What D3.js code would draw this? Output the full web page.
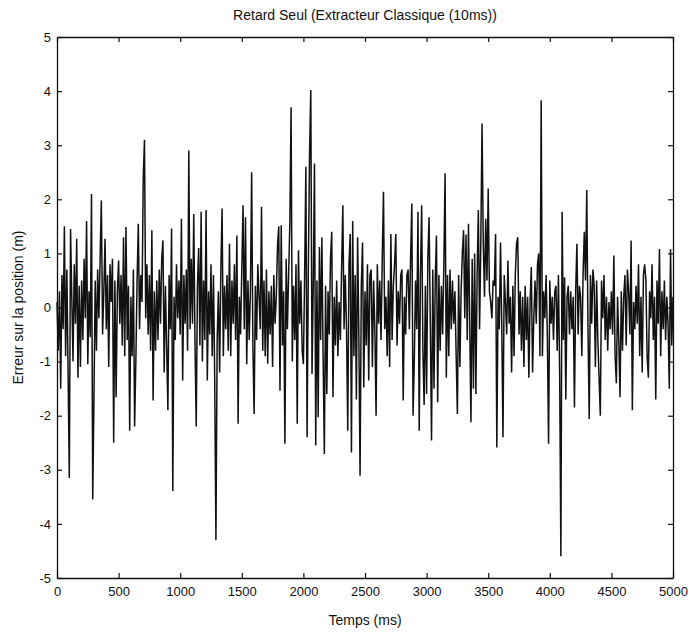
<!DOCTYPE html>
<html>
<head>
<meta charset="utf-8">
<script src="https://cdn.jsdelivr.net/npm/d3@7"></script>
<style>
  body { margin: 0; background: #fff; }
  text { font-family: "Liberation Sans", Arial, sans-serif; fill: #111; }
</style>
</head>
<body>
<div class="area"></div>
<script>
const width = 693
const height = 633
const margin = {top: 37, right: 20, bottom: 55, left: 57}
const lineColor = "#111"

const titre = "Retard Seul (Extracteur Classique (10ms))"
const xLabel = "Temps (ms)"
const yLabel = "Erreur sur la position (m)"

const xTicks = [0, 500, 1000, 1500, 2000, 2500, 3000, 3500, 4000, 4500, 5000]
const yTicks = [-5, -4, -3, -2, -1, 0, 1, 2, 3, 4, 5]
const yTickLabels = ["-5", "-4", "-3", "-2", "-1", "0", "1", "2", "3", "4", "5"]

// one sample every 10 ms, 0 .. 5000 ms
const pasMs = 10
const erreur = [
  0.1, -0.8, 0.3, -1.5, 0.6, -0.4, 1.5, -0.9, 0.7, -1.2,
  -3.15, 1.45, 0.2, -1.0, 0.8, -0.3, 1.27, -1.3, 0.4, -1.1,
  0.5, -0.6, 0.9, -0.2, 1.6, -1.05, 0.3, -0.55, 2.1, -3.55,
  -1.66, 0.5, -0.8, 0.7, -0.2, 0.9, 1.98, -0.5, 0.3, 1.27,
  -0.4, 0.6, -1.1, 0.8, 0.1, 0.9, -2.5, 0.5, -1.66, 0.3,
  0.87, -0.3, 0.6, -0.7, 1.3, -0.9, 1.49, -0.6, 0.4, -2.28,
  0.2, -0.9, 0.7, -2.2, -1.0, 0.5, 1.55, -0.4, 0.6, 0.1,
  2.4, 3.1, -0.2, 0.8, -0.5, 0.6, -0.8, 1.43, -1.72, 0.3,
  -0.8, 0.5, -0.6, 0.7, -0.3, 0.9, 1.24, -1.2, 0.4, -0.7,
  -1.9, 0.6, -0.4, 1.46, -3.39, 0.2, -0.6, 0.8, -0.2, 0.5,
  -0.5, 1.64, -1.35, 0.6, -0.3, 0.7, -0.8, 2.9, -0.4, 0.9,
  -0.3, 1.73, -0.6, -2.2, 0.4, 1.1, -0.7, 1.77, -1.0, 0.5,
  -0.6, 1.8, -1.35, 0.3, -0.5, 0.8, -0.9, 0.6, -1.3, -4.3,
  -0.6, 0.3, -1.2, 0.7, 1.83, -0.9, 0.4, -0.4, 0.6, -0.8,
  1.18, -0.9, 0.5, -0.3, 0.8, -0.6, 1.33, -2.15, 0.2, -0.5,
  0.7, 1.89, -0.4, 1.67, -1.05, 0.5, -0.6, 0.3, 2.5, -0.7,
  -1.97, 0.4, -0.6, 0.8, 0.2, -0.4, 1.86, -0.8, 0.5, -0.9,
  0.7, -1.04, 0.3, -0.5, 0.4, -1.1, 0.6, -0.3, 0.2, 1.15,
  1.5, -1.54, 1.52, -0.7, 0.3, -2.52, 0.9, -0.4, 0.6, 1.55,
  3.7, -1.0, 0.4, -0.6, 0.8, -2.15, 1.06, -0.3, 0.5, -0.8,
  -1.05, 0.6, 2.6, -2.4, 0.7, 2.85, 4.02, -1.23, 0.4, 2.66,
  -2.55, 0.5, -2.03, 1.12, -0.6, 1.3, -0.9, -2.71, 0.4, -1.6,
  0.3, -0.5, 0.9, 1.4, -1.66, 0.2, -0.7, 0.5, -0.9, 0.1,
  -0.6, 0.7, 1.89, -0.4, 0.6, -0.4, -2.28, 0.8, 1.36, -2.68,
  1.6, -0.9, 0.6, -1.7, 1.3, -0.5, -3.11, 0.4, 1.2, -1.48,
  0.3, -0.7, 0.8, -1.35, 0.6, 0.7, -1.1, 0.5, -0.4, -2.0,
  0.8, -0.3, 0.5, -0.6, 0.9, 2.14, -0.4, 0.2, -0.9, 0.5,
  -1.1, 1.36, -0.6, 0.4, 0.8, 1.36, -0.7, 0.3, -0.3, 0.6,
  0.7, -1.72, 0.2, -0.5, 0.6, 0.7, -0.4, 0.9, 1.92, -2.0,
  -1.0, 0.5, -0.4, 1.77, -2.28, 0.6, 1.89, -0.8, -1.8, 0.4,
  -1.6, 0.9, 1.67, -0.3, -2.46, 0.7, -1.5, 0.5, 1.33, -1.75,
  0.6, -0.8, 0.4, -0.5, 0.8, 2.48, -1.3, 0.6, -0.9, 0.7,
  -0.4, 0.5, -0.3, 0.3, -0.9, -1.97, 0.6, -1.1, 0.3, 1.0,
  1.43, -0.2, 1.35, -0.6, 1.55, -0.3, -2.12, 0.9, -1.5, 1.0,
  -1.6, 0.6, 1.8, -0.4, 1.2, 3.4, 1.2, 0.2, 1.64, 0.5,
  2.2, 0.3, 0.1, -0.2, 0.5, 0.4, 1.36, -2.59, 0.2, -0.4,
  1.2, -0.3, -2.4, 0.6, 0.1, -0.5, 0.87, -0.3, 0.2, -1.2,
  0.4, -0.9, 0.6, 1.18, 1.3, -0.5, 0.3, -0.8, 0.2, -1.1,
  0.4, -0.6, 0.2, -1.3, 0.1, 0.75, -1.2, -0.2, 0.5, -0.3,
  0.8, 1.0, -0.9, 3.83, -0.9, 0.3, -0.2, 0.6, -0.5, -2.52,
  0.5, -0.3, 0.2, -0.6, 0.3, 0.4, -0.8, 0.6, -1.2, -4.6,
  1.77, -0.6, 0.56, -1.7, 0.2, 0.4, -0.5, 0.3, -0.4, 0.2,
  -1.85, 0.3, 1.18, -0.5, 0.4, 0.2, -0.9, 0.6, 1.4, 0.5,
  2.17, -0.4, -2.06, 0.6, -0.3, 0.7, 0.4, -1.1, 0.5, -0.6,
  -1.3, -2.0, 0.5, -0.2, 0.6, -0.6, 0.2, -0.8, 0.1, -0.4,
  0.3, -0.5, 0.96, -0.9, -1.4, 0.2, -0.6, -1.66, 0.3, -0.8,
  0.2, 0.6, -0.7, 0.7, 0.3, -0.5, 1.24, -1.9, 0.1, -0.4,
  0.4, -0.3, 0.8, -0.9, 0.2, -1.2, 0.6, 0.8, 0.5, -0.9,
  -1.3, 0.3, -0.2, 0.8, -0.6, 0.2, -1.7, 0.5, -0.3, 1.08,
  -0.9, 0.3, -0.4, 0.5, -0.6, 0.2, -0.3, -1.5, 1.08, -0.7,
  0.2
]

const innerW = width - margin.left - margin.right
const innerH = height - margin.top - margin.bottom

const svg = d3.select(".area")
  .append("svg")
  .attr("width", width)
  .attr("height", height)
  .attr("viewBox", [0, 0, width, height])

const g = svg.append("g")
  .attr("transform", `translate(${margin.left}, ${margin.top})`)

const x = d3.scaleLinear()
  .domain([0, 5000])
  .range([0, innerW])

const y = d3.scaleLinear()
  .domain([-5, 5])
  .range([innerH, 0])

// matlab style box: inward ticks on all four sides
const tickLen = 5
const axisStyle = a => a
  .call(s => s.select(".domain").attr("stroke", lineColor).attr("stroke-width", 1.3))
  .call(s => s.selectAll(".tick line").attr("stroke", lineColor).attr("stroke-width", 1.2))
  .call(s => s.selectAll(".tick text").attr("font-size", 13).attr("fill", "#111"))

g.append("g")
  .attr("transform", `translate(0, ${innerH})`)
  .call(d3.axisBottom(x).tickValues(xTicks).tickFormat(d3.format("d")).tickSizeInner(-tickLen).tickSizeOuter(0).tickPadding(9))
  .call(axisStyle)

g.append("g")
  .call(d3.axisTop(x).tickValues(xTicks).tickFormat("").tickSizeInner(-tickLen).tickSizeOuter(0))
  .call(axisStyle)

g.append("g")
  .call(d3.axisLeft(y).tickValues(yTicks).tickFormat((d, i) => yTickLabels[i]).tickSizeInner(-tickLen).tickSizeOuter(0).tickPadding(6))
  .call(axisStyle)

g.append("g")
  .attr("transform", `translate(${innerW}, 0)`)
  .call(d3.axisRight(y).tickValues(yTicks).tickFormat("").tickSizeInner(-tickLen).tickSizeOuter(0))
  .call(axisStyle)

const line = d3.line()
  .x((d, i) => x(i * pasMs))
  .y(d => y(d))

g.append("path")
  .datum(erreur)
  .attr("fill", "none")
  .attr("stroke", lineColor)
  .attr("stroke-width", 1.5)
  .attr("d", line)

svg.append("text")
  .attr("x", margin.left + innerW / 2)
  .attr("y", 20)
  .attr("text-anchor", "middle")
  .attr("font-size", 14)
  .text(titre)

svg.append("text")
  .attr("x", margin.left + innerW / 2)
  .attr("y", height - 8)
  .attr("text-anchor", "middle")
  .attr("font-size", 14)
  .text(xLabel)

svg.append("text")
  .attr("transform", `translate(23, ${margin.top + innerH / 2}) rotate(-90)`)
  .attr("text-anchor", "middle")
  .attr("font-size", 14)
  .text(yLabel)
</script>
</body>
</html>
